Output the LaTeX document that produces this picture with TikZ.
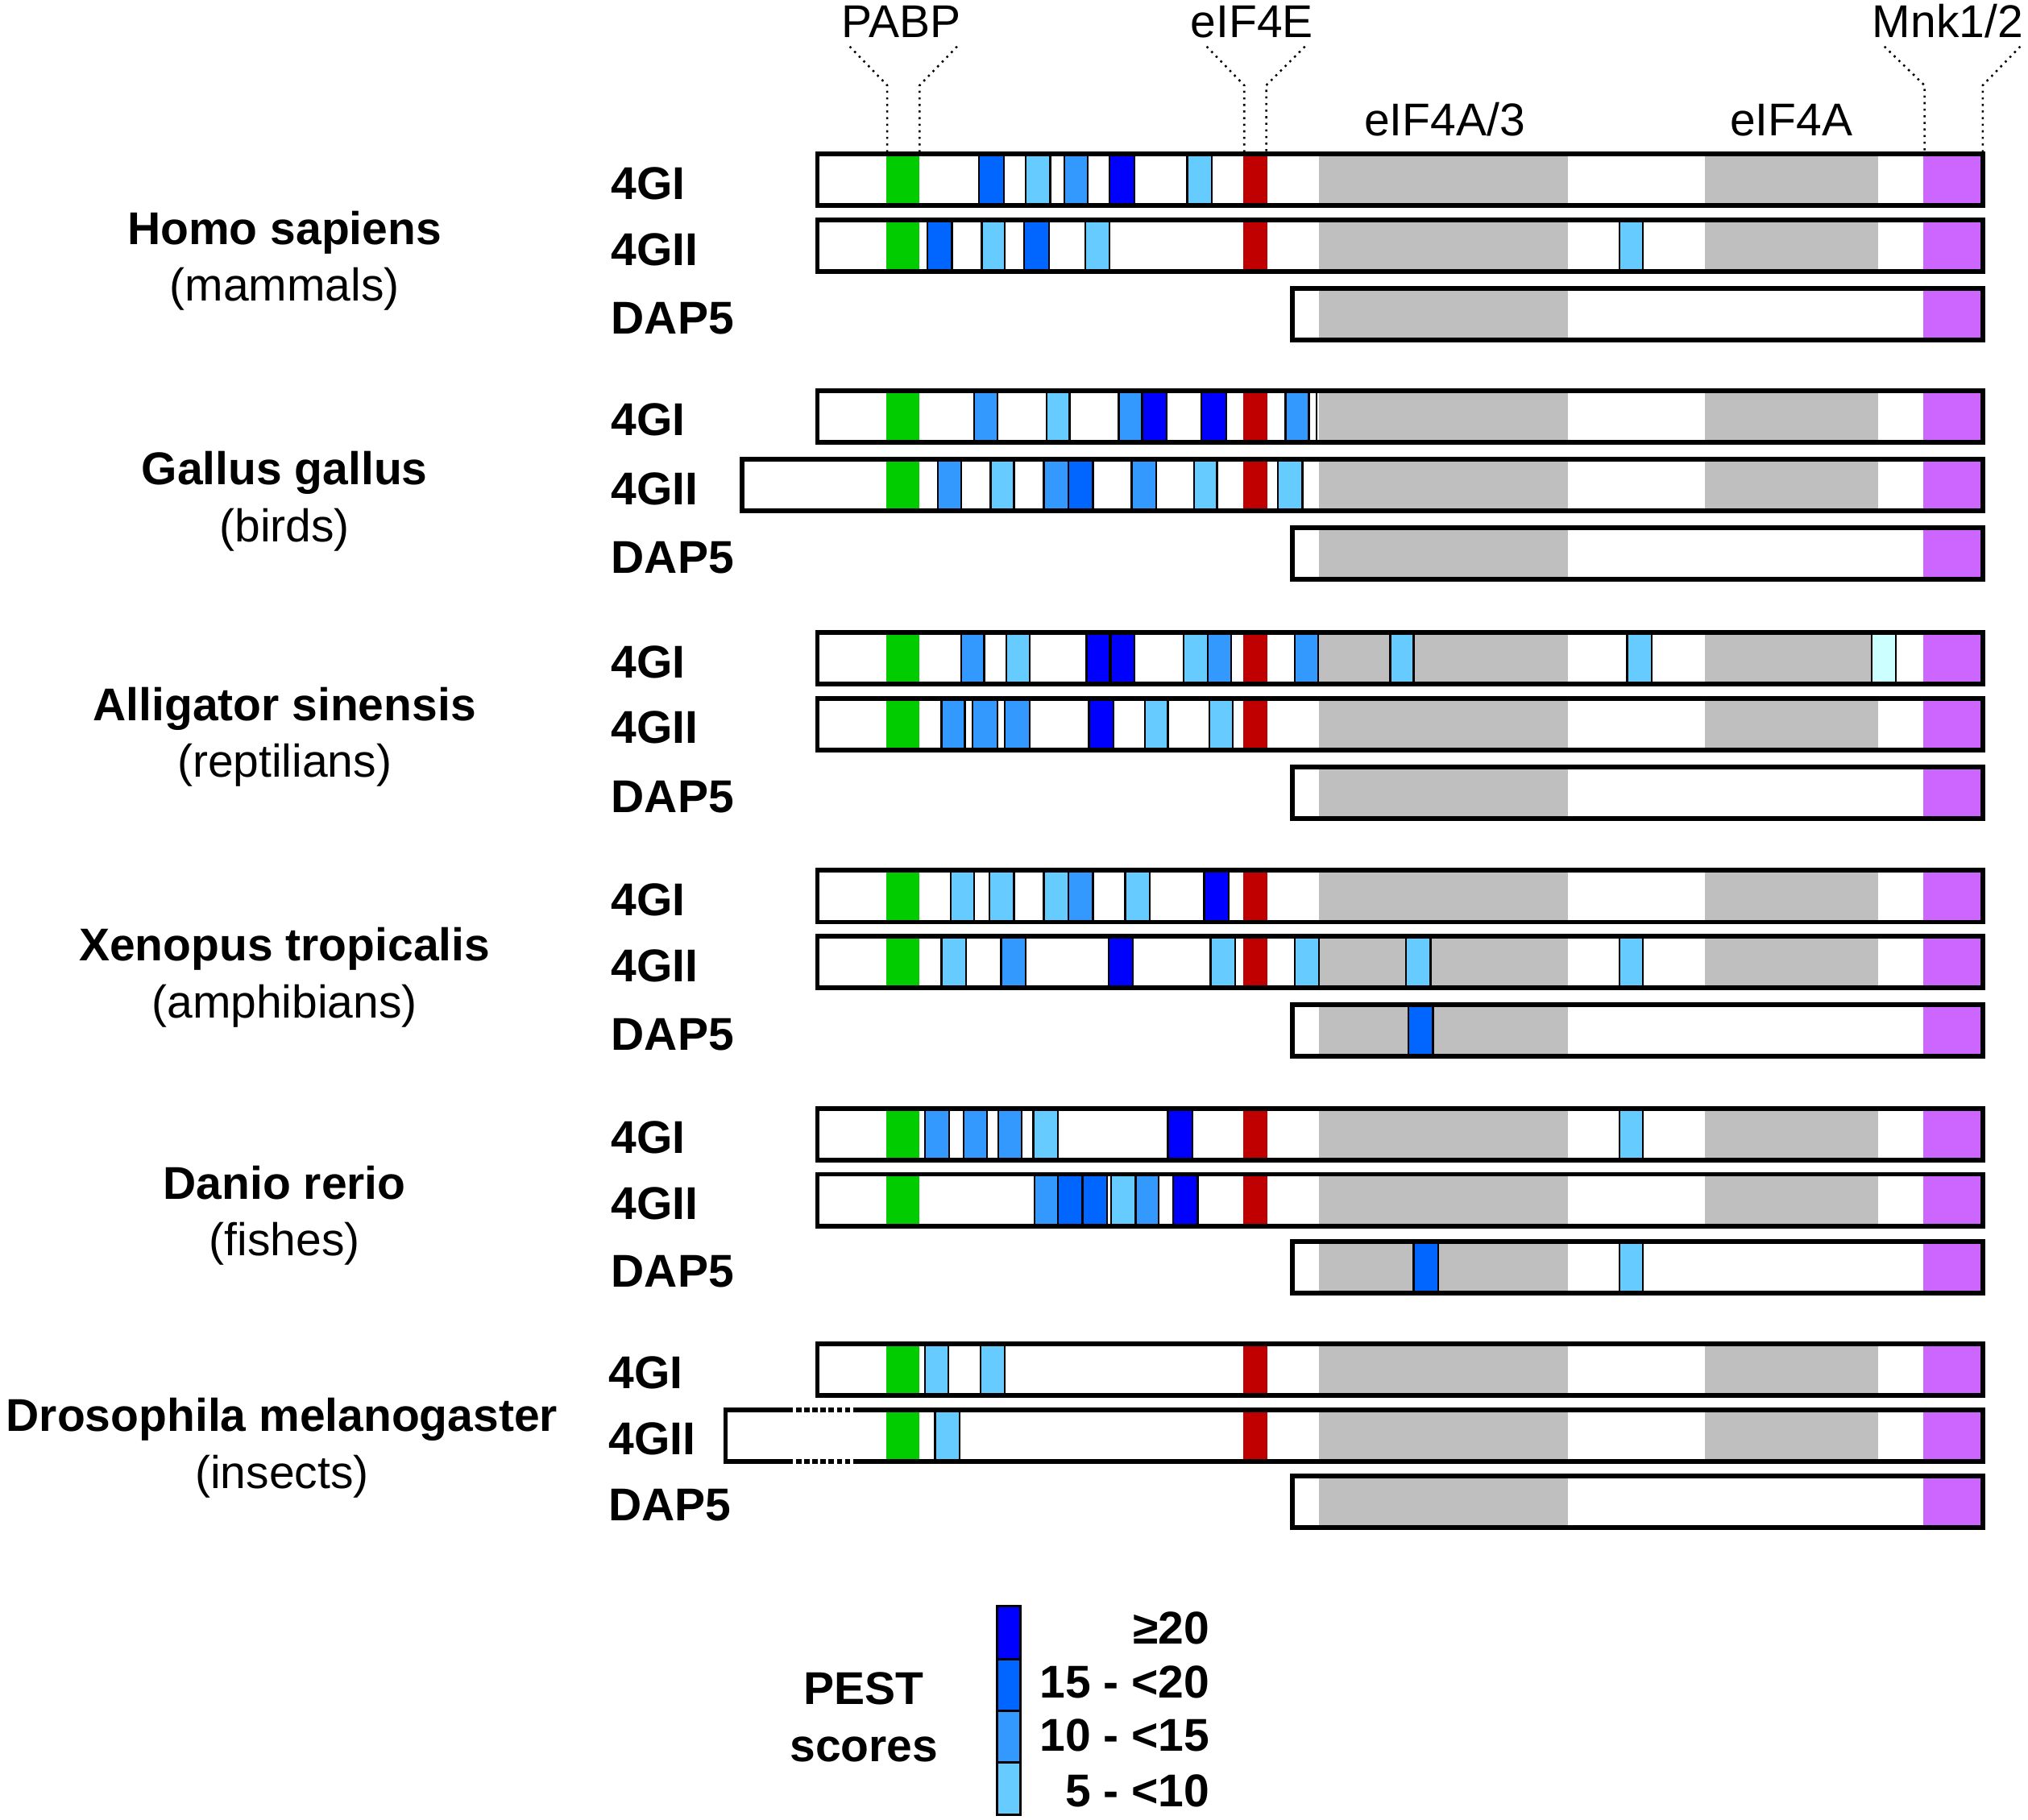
\documentclass[tikz,border=0pt]{standalone}
\usepackage{fontspec}
\setmainfont{Liberation Sans}
\definecolor{pa}{HTML}{0000FF}
\definecolor{pb}{HTML}{0066FF}
\definecolor{pc}{HTML}{3399FF}
\definecolor{pd}{HTML}{66CCFF}
\definecolor{pe}{HTML}{CCFFFF}
\definecolor{pabpgreen}{HTML}{00CC00}
\definecolor{eifred}{HTML}{C00000}
\definecolor{domgray}{HTML}{BFBFBF}
\definecolor{mnkpurple}{HTML}{CC66FF}
\tikzset{
  barline/.style={draw=black,line width=1.05pt},
  leader/.style={densely dotted,line width=0.45pt},
  lab/.style={font=\fontsize{10.1}{12}\selectfont\bfseries,inner sep=0pt},
  toplab/.style={font=\fontsize{10.1}{12}\selectfont,inner sep=0pt,anchor=base},
  species/.style={font=\fontsize{10.1}{12}\selectfont\bfseries,inner sep=0pt,anchor=base},
  group/.style={font=\fontsize{10.1}{12}\selectfont,inner sep=0pt,anchor=base}
}
\newcommand\pestbox[4]{\filldraw[fill=#4,draw=black,line width=0.4pt] (#1,#3) rectangle (#2,#3+40);}
\newcommand\eifbar[2]{%
  \fill[white] (#2,#1) rectangle (1533,#1+40);
  \fill[domgray] (1020,#1) rectangle (1212,#1+40);
  \fill[domgray] (1318,#1) rectangle (1452,#1+40);
  \fill[pabpgreen] (685,#1) rectangle (711,#1+40);
  \fill[eifred] (961,#1) rectangle (980,#1+40);
  \fill[mnkpurple] (1487,#1) rectangle (1533,#1+40);}
\newcommand\eifout[2]{\draw[barline] (#2,#1) rectangle (1533,#1+40);}
\newcommand\dapbar[1]{%
  \fill[white] (999,#1) rectangle (1533,#1+40);
  \fill[domgray] (1020,#1) rectangle (1212,#1+40);
  \fill[mnkpurple] (1487,#1) rectangle (1533,#1+40);}
\newcommand\dapout[1]{\draw[barline] (999,#1) rectangle (1533,#1+40);}
\begin{document}
\begin{tikzpicture}[x=0.01cm,y=-0.01cm]
\useasboundingbox (0,0) rectangle (1568,1407);

% ---------- top labels and leaders ----------
\node[toplab] (tPABP) at (697,29) {PABP};
\node[toplab] (teIF4E) at (968,29) {eIF4E};
\node[toplab] (tMnk) at (1506,29) {Mnk1/2};
\node[toplab] (teIF4A3) at (1117,105) {eIF4A/3};
\node[toplab] (teIF4A) at (1385,105) {eIF4A};
\draw[leader] (657,36) -- (686,66) -- (686,119);
\draw[leader] (740,36) -- (711,66) -- (711,119);
\draw[leader] (933,36) -- (962,66) -- (962,119);
\draw[leader] (1009,36) -- (979,66) -- (979,119);
\draw[leader] (1457,36) -- (1488,66) -- (1488,119);
\draw[leader] (1562,36) -- (1533,66) -- (1533,119);

% ---------- Homo sapiens ----------
\node[species] (sp1) at (220,189) {Homo sapiens};
\node[group] (gr1) at (220,233) {(mammals)};
\node[lab,anchor=base west] (l1a) at (472,154) {4GI};
\node[lab,anchor=base west] (l1b) at (472,205) {4GII};
\node[lab,anchor=base west] (l1c) at (472,258) {DAP5};
\eifbar{119}{632}
\pestbox{757}{776}{119}{pb}\pestbox{793}{812}{119}{pd}\pestbox{823}{841}{119}{pc}
\pestbox{858}{877}{119}{pa}\pestbox{918}{937}{119}{pd}
\eifout{119}{632}
\eifbar{170}{632}
\pestbox{717}{736}{170}{pb}\pestbox{759}{777}{170}{pd}\pestbox{792}{811}{170}{pb}
\pestbox{839}{858}{170}{pd}\pestbox{1252}{1270}{170}{pd}
\eifout{170}{632}
\dapbar{223}\dapout{223}

% ---------- Gallus gallus ----------
\node[species] (sp2) at (220,375) {Gallus gallus};
\node[group] (gr2) at (220,419) {(birds)};
\node[lab,anchor=base west] (l2a) at (472,337) {4GI};
\node[lab,anchor=base west] (l2b) at (472,390) {4GII};
\node[lab,anchor=base west] (l2c) at (472,443) {DAP5};
\eifbar{302}{632}
\pestbox{753}{771}{302}{pc}\pestbox{809}{827}{302}{pd}\pestbox{865}{883}{302}{pc}
\pestbox{883}{902}{302}{pa}\pestbox{929}{948}{302}{pa}\pestbox{994}{1012}{302}{pc}
\draw[line width=0.4pt] (1018,302) -- (1018,342);
\eifout{302}{632}
\eifbar{355}{574}
\pestbox{725}{743}{355}{pc}\pestbox{766}{784}{355}{pd}\pestbox{807}{826}{355}{pc}
\pestbox{826}{845}{355}{pb}\pestbox{875}{894}{355}{pc}\pestbox{923}{941}{355}{pd}
\pestbox{988}{1007}{355}{pd}
\eifout{355}{574}
\dapbar{408}\dapout{408}

% ---------- Alligator sinensis ----------
\node[species] (sp3) at (220,557) {Alligator sinensis};
\node[group] (gr3) at (220,601) {(reptilians)};
\node[lab,anchor=base west] (l3a) at (472,524) {4GI};
\node[lab,anchor=base west] (l3b) at (472,575) {4GII};
\node[lab,anchor=base west] (l3c) at (472,628) {DAP5};
\eifbar{489}{632}
\pestbox{743}{761}{489}{pc}\pestbox{778}{796}{489}{pd}\pestbox{840}{858}{489}{pa}
\pestbox{859}{877}{489}{pa}\pestbox{915}{934}{489}{pd}\pestbox{934}{952}{489}{pc}
\pestbox{1001}{1019}{489}{pc}\pestbox{1075}{1093}{489}{pd}\pestbox{1258}{1277}{489}{pd}
\pestbox{1447}{1466}{489}{pe}
\eifout{489}{632}
\eifbar{540}{632}
\pestbox{728}{746}{540}{pc}\pestbox{752}{771}{540}{pc}\pestbox{777}{796}{540}{pc}
\pestbox{842}{861}{540}{pa}\pestbox{885}{903}{540}{pd}\pestbox{935}{953}{540}{pd}
\eifout{540}{632}
\dapbar{593}\dapout{593}

% ---------- Xenopus tropicalis ----------
\node[species] (sp4) at (220,743) {Xenopus tropicalis};
\node[group] (gr4) at (220,787) {(amphibians)};
\node[lab,anchor=base west] (l4a) at (472,708) {4GI};
\node[lab,anchor=base west] (l4b) at (472,759) {4GII};
\node[lab,anchor=base west] (l4c) at (472,812) {DAP5};
\eifbar{673}{632}
\pestbox{735}{753}{673}{pd}\pestbox{765}{784}{673}{pd}\pestbox{807}{826}{673}{pd}
\pestbox{826}{845}{673}{pc}\pestbox{870}{889}{673}{pd}\pestbox{931}{950}{673}{pa}
\eifout{673}{632}
\eifbar{724}{632}
\pestbox{728}{747}{724}{pd}\pestbox{774}{793}{724}{pc}\pestbox{857}{876}{724}{pa}
\pestbox{936}{955}{724}{pd}\pestbox{1001}{1020}{724}{pd}\pestbox{1087}{1106}{724}{pd}
\pestbox{1252}{1270}{724}{pd}
\eifout{724}{632}
\dapbar{777}
\pestbox{1089}{1108}{777}{pb}
\dapout{777}

% ---------- Danio rerio ----------
\node[species] (sp5) at (220,927) {Danio rerio};
\node[group] (gr5) at (220,971) {(fishes)};
\node[lab,anchor=base west] (l5a) at (472,892) {4GI};
\node[lab,anchor=base west] (l5b) at (472,943) {4GII};
\node[lab,anchor=base west] (l5c) at (472,995) {DAP5};
\eifbar{857}{632}
\pestbox{715}{734}{857}{pc}\pestbox{745}{763}{857}{pc}\pestbox{772}{790}{857}{pc}
\pestbox{799}{818}{857}{pd}\pestbox{903}{922}{857}{pa}\pestbox{1252}{1270}{857}{pd}
\eifout{857}{632}
\eifbar{908}{632}
\pestbox{800}{818}{908}{pc}\pestbox{818}{837}{908}{pb}\pestbox{837}{856}{908}{pb}
\pestbox{859}{878}{908}{pd}\pestbox{878}{896}{908}{pc}\pestbox{907}{926}{908}{pa}
\eifout{908}{632}
\dapbar{960}
\pestbox{1093}{1112}{960}{pb}\pestbox{1252}{1270}{960}{pd}
\dapout{960}

% ---------- Drosophila melanogaster ----------
\node[species] (sp6) at (218,1107) {Drosophila melanogaster};
\node[group] (gr6) at (218,1151) {(insects)};
\node[lab,anchor=base west] (l6a) at (470,1074) {4GI};
\node[lab,anchor=base west] (l6b) at (470,1125) {4GII};
\node[lab,anchor=base west] (l6c) at (470,1176) {DAP5};
\eifbar{1039}{632}
\pestbox{715}{733}{1039}{pd}\pestbox{758}{777}{1039}{pd}
\eifout{1039}{632}
\eifbar{1090}{561}
\pestbox{723}{742}{1090}{pd}
\draw[barline] (609,1090) -- (561,1090) -- (561,1130) -- (609,1130);
\draw[barline,dash pattern=on 1.2pt off 0.6pt] (609,1090) -- (663,1090);
\draw[barline,dash pattern=on 1.2pt off 0.6pt] (609,1130) -- (663,1130);
\draw[barline] (663,1090) -- (1533,1090) -- (1533,1130) -- (663,1130);
\dapbar{1141}\dapout{1141}

% ---------- legend ----------
\node[species] (pest) at (668,1318) {PEST};
\node[species] (scores) at (668,1362) {scores};
\filldraw[fill=pa,draw=black,line width=0.5pt] (771,1242) rectangle (789,1283);
\filldraw[fill=pb,draw=black,line width=0.5pt] (771,1283) rectangle (789,1323);
\filldraw[fill=pc,draw=black,line width=0.5pt] (771,1323) rectangle (789,1363);
\filldraw[fill=pd,draw=black,line width=0.5pt] (771,1363) rectangle (789,1403);
\node[lab,anchor=base east] (k1) at (936,1271) {≥20};
\node[lab,anchor=base east] (k2) at (936,1313) {15 - <20};
\node[lab,anchor=base east] (k3) at (936,1354) {10 - <15};
\node[lab,anchor=base east] (k4) at (936,1397) {5 - <10};
\end{tikzpicture}
\end{document}
